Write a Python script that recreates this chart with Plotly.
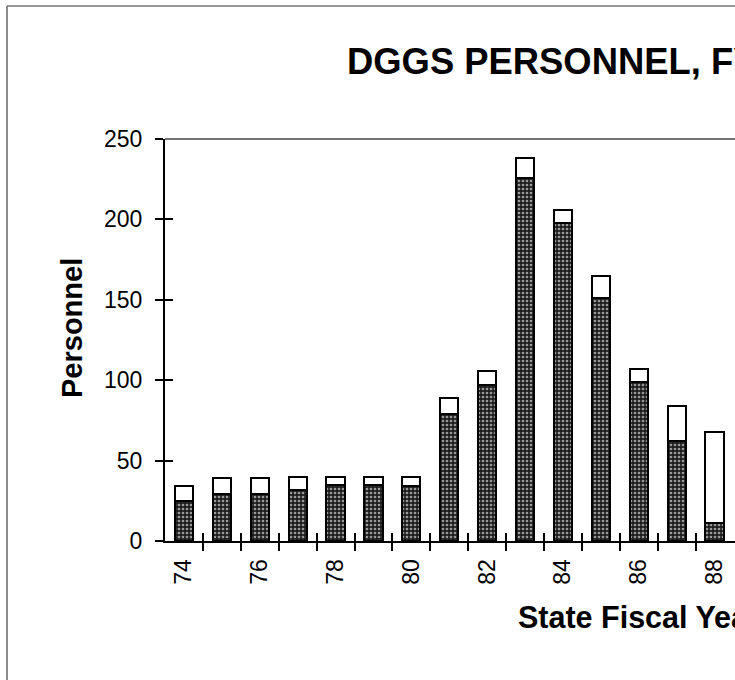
import plotly.graph_objects as go

# ---- data ----
years = [74, 75, 76, 77, 78, 79, 80, 81, 82, 83, 84, 85, 86, 87, 88]
shaded_part = [25, 29, 29, 32, 35, 35, 34, 79, 97, 226, 198, 151, 99, 62, 11]
total_personnel = [34, 39, 39, 40, 40, 40, 40, 89, 106, 238, 206, 165, 107, 84, 68]
open_part = [t - s for t, s in zip(total_personnel, shaded_part)]
label_years = [74, 76, 78, 80, 82, 84, 86, 88]
y_ticks = [0, 50, 100, 150, 200, 250]

title_text = "DGGS PERSONNEL, FY 1974-1988"
x_title = "State Fiscal Year"
y_title = "Personnel"

# ---- geometry ----
W, H = 735, 680
L, T, B = 165, 139, 139
plot_w = W - L
plot_h = H - T - B
px_per_year = 37.9
x0 = years[0] - 0.5
x1 = x0 + plot_w / px_per_year
boundaries = [y + 0.5 for y in years[:-1]]

def px_to_paper_x(px):
    return (px - L) / plot_w

def px_to_paper_y(py):
    return (H - B - py) / plot_h

FONT = "Liberation Sans, Arial, sans-serif"

fig = go.Figure()
fig.add_trace(go.Bar(
    x=years, y=shaded_part, name="Shaded",
    width=0.48,
    marker=dict(
        color="#222222",
        line=dict(color="black", width=2),
        pattern=dict(shape=".", bgcolor="#1e1e1e", fgcolor="#9a9a9a",
                     size=4, solidity=0.35, fillmode="replace"),
    ),
    hoverinfo="x+y",
))
fig.add_trace(go.Bar(
    x=years, y=open_part, name="Open",
    width=0.48,
    marker=dict(color="white", line=dict(color="black", width=2)),
    hoverinfo="x+y",
))
# invisible trace to carry overlay axes (inside tick marks)
fig.add_trace(go.Scatter(
    x=[years[0]], y=[0], xaxis="x2", yaxis="y2", mode="markers",
    marker=dict(opacity=0), showlegend=False, hoverinfo="skip",
))

fig.update_layout(
    width=W, height=H,
    margin=dict(l=L, r=0, t=T, b=B, pad=0),
    paper_bgcolor="white", plot_bgcolor="white",
    barmode="stack", showlegend=False,
    font=dict(family=FONT, color="black", size=23),
    xaxis=dict(
        range=[x0, x1], tickmode="array", tickvals=label_years,
        ticktext=[str(v) for v in label_years], tickangle=-90,
        ticks="", showgrid=False, zeroline=False,
        showline=True, linecolor="black", linewidth=2,
        tickfont=dict(size=23, family=FONT),
        ticklabelstandoff=7,
        minor=dict(tickmode="array", tickvals=boundaries, ticks="outside",
                   ticklen=8, tickwidth=1.5, tickcolor="black", showgrid=False),
    ),
    yaxis=dict(
        range=[0, 250], tickmode="array", tickvals=y_ticks,
        ticks="outside", ticklen=8, tickwidth=1.5, tickcolor="black",
        showgrid=False, zeroline=False,
        showline=True, linecolor="black", linewidth=2,
        tickfont=dict(size=23, family=FONT),
        ticklabelstandoff=8,
    ),
    xaxis2=dict(
        overlaying="x", matches="x", anchor="y2", side="bottom",
        tickmode="array", tickvals=boundaries, ticks="inside",
        ticklen=8, tickwidth=1.5, tickcolor="black",
        showticklabels=False, showgrid=False, zeroline=False, showline=False,
    ),
    yaxis2=dict(
        overlaying="y", matches="y", anchor="x2", side="left",
        tickmode="array", tickvals=y_ticks[1:-1], ticks="inside",
        ticklen=8, tickwidth=1.5, tickcolor="black",
        showticklabels=False, showgrid=False, zeroline=False, showline=False,
    ),
    shapes=[
        # top frame line of the plot area
        dict(type="line", xref="paper", yref="paper", x0=0, x1=1.05, y0=1, y1=1,
             line=dict(color="#444", width=1.3)),
        # outer border of the chart
        dict(type="line", xref="paper", yref="paper",
             x0=px_to_paper_x(7), x1=px_to_paper_x(7),
             y0=px_to_paper_y(6), y1=px_to_paper_y(700),
             line=dict(color="#666", width=1.5)),
        dict(type="line", xref="paper", yref="paper",
             x0=px_to_paper_x(7), x1=px_to_paper_x(760),
             y0=px_to_paper_y(6), y1=px_to_paper_y(6),
             line=dict(color="#777", width=1.5)),
    ],
    annotations=[
        dict(text=f"<b>{title_text}</b>", xref="paper", yref="paper",
             x=px_to_paper_x(345), y=px_to_paper_y(61),
             xanchor="left", yanchor="middle", showarrow=False,
             font=dict(size=36.4, family=FONT)),
        dict(text=f"<b>{y_title}</b>", xref="paper", yref="paper",
             x=px_to_paper_x(72), y=px_to_paper_y(328), textangle=-90,
             xanchor="center", yanchor="middle", showarrow=False,
             font=dict(size=29, family=FONT)),
        dict(text=f"<b>{x_title}</b>", xref="paper", yref="paper",
             x=px_to_paper_x(516), y=px_to_paper_y(617),
             xanchor="left", yanchor="middle", showarrow=False,
             font=dict(size=30.5, family=FONT)),
    ],
)

fig.write_html(
    "out.html",
    config={"displayModeBar": False},
    post_script="document.body.style.margin='0';document.body.style.overflow='hidden';",
)
